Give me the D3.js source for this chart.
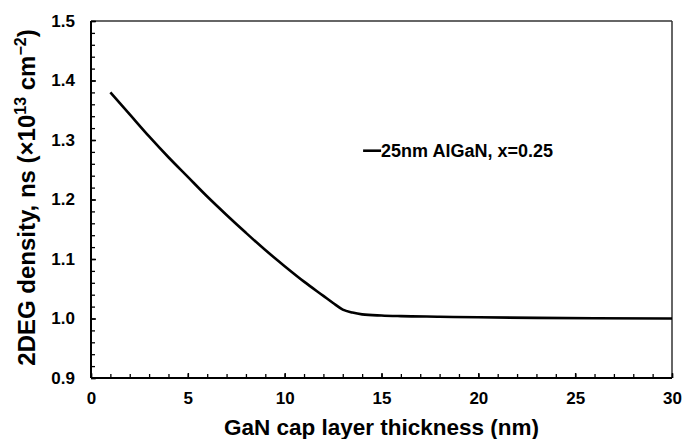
<!DOCTYPE html>
<html>
<head>
<meta charset="utf-8">
<script src="https://cdn.jsdelivr.net/npm/d3@7"></script>
<style>
  body { margin: 0; background: #fff; }
  text { font-family: "Liberation Sans", Arial, sans-serif; font-weight: bold; fill: #000; }
</style>
</head>
<body>
<div id="chart"></div>
<script>
// Data
const thickness = [1, 2, 3, 4, 5, 6, 7, 8, 9, 10, 11, 12, 12.5, 13, 13.5, 14, 15, 16, 18, 20, 23, 26, 30];
const density = [1.380, 1.343, 1.306, 1.271, 1.238, 1.205, 1.174, 1.144, 1.115, 1.088, 1.062, 1.038,
  1.026, 1.015, 1.010, 1.007, 1.005, 1.004, 1.003, 1.002, 1.001, 1.0005, 1.000];
const xTicks = [0, 5, 10, 15, 20, 25, 30];
const yTicks = [0.9, 1.0, 1.1, 1.2, 1.3, 1.4, 1.5];
const seriesName = "25nm AlGaN, x=0.25";

const svgWidth = 683;
const svgHeight = 439;
const margin = { top: 21, right: 11, bottom: 61, left: 91 };
const chartWidth = svgWidth - margin.left - margin.right;
const chartHeight = svgHeight - margin.top - margin.bottom;

const svg = d3.select("#chart")
  .append("svg")
  .attr("width", svgWidth)
  .attr("height", svgHeight);

const chartGroup = svg.append("g")
  .attr("transform", `translate(${margin.left}, ${margin.top})`);

const xScale = d3.scaleLinear().domain([0, 30]).range([0, chartWidth]);
const yScale = d3.scaleLinear().domain([0.9, 1.5]).range([chartHeight, 0]);

// frame: top and right
chartGroup.append("line")
  .attr("x1", 0).attr("x2", chartWidth).attr("y1", 0).attr("y2", 0)
  .attr("stroke", "#333").attr("stroke-width", 1.5);
chartGroup.append("line")
  .attr("x1", chartWidth).attr("x2", chartWidth).attr("y1", 0).attr("y2", chartHeight)
  .attr("stroke", "#333").attr("stroke-width", 1.5);

// minor ticks
const xMinor = d3.range(0, 31, 1);
const yMinor = d3.range(0, 31).map(i => 0.9 + i * 0.02);

chartGroup.append("g")
  .attr("transform", `translate(0, ${chartHeight})`)
  .call(d3.axisBottom(xScale).tickValues(xMinor).tickSize(-4).tickFormat(""))
  .call(g => g.select(".domain").remove())
  .selectAll("line").attr("stroke-width", 1.3);

chartGroup.append("g")
  .call(d3.axisLeft(yScale).tickValues(yMinor).tickSize(-4).tickFormat(""))
  .call(g => g.select(".domain").remove())
  .selectAll("line").attr("stroke-width", 1.3);

// major axes
const xAxis = chartGroup.append("g")
  .attr("transform", `translate(0, ${chartHeight})`)
  .call(d3.axisBottom(xScale).tickValues(xTicks).tickSize(-5).tickPadding(14).tickFormat(d3.format("d")));
xAxis.select(".domain").attr("stroke-width", 2).attr("d", `M0,0H${chartWidth}`);
xAxis.selectAll("line").attr("stroke-width", 1.5);
xAxis.selectAll("text").style("font-size", "17px");

const yAxis = chartGroup.append("g")
  .call(d3.axisLeft(yScale).tickValues(yTicks).tickSize(-5).tickPadding(16).tickFormat(d3.format(".1f")));
yAxis.select(".domain").attr("stroke-width", 2).attr("d", `M0,${chartHeight}V0`);
yAxis.selectAll("line").attr("stroke-width", 1.5);
yAxis.selectAll("text").style("font-size", "17px");

// curve
const points = thickness.map((t, i) => [t, density[i]]);
const line = d3.line()
  .x(d => xScale(d[0]))
  .y(d => yScale(d[1]))
  .curve(d3.curveMonotoneX);

chartGroup.append("path")
  .datum(points)
  .attr("d", line)
  .attr("fill", "none")
  .attr("stroke", "#000")
  .attr("stroke-width", 2.6);

// legend
const legend = chartGroup.append("g")
  .attr("transform", `translate(${xScale(14.05)}, ${yScale(1.282)})`);
legend.append("line")
  .attr("x1", 0).attr("x2", 18).attr("y1", 0).attr("y2", 0)
  .attr("stroke", "#000").attr("stroke-width", 2.6);
legend.append("text")
  .attr("x", 18).attr("y", 6)
  .style("font-size", "18px")
  .text(seriesName);

// axis labels
const yLabel = chartGroup.append("text")
  .attr("transform", `translate(${-margin.left + 35}, ${chartHeight / 2 - 2}) rotate(-90)`)
  .attr("text-anchor", "middle")
  .style("font-size", "24px");
yLabel.append("tspan").text("2DEG density, ns (×10");
yLabel.append("tspan").attr("dy", -9).style("font-size", "16px").text("13");
yLabel.append("tspan").attr("dy", 9).text(" cm");
yLabel.append("tspan").attr("dy", -9).style("font-size", "16px").text("−2");
yLabel.append("tspan").attr("dy", 9).text(")");

chartGroup.append("text")
  .attr("x", chartWidth / 2)
  .attr("y", chartHeight + 57)
  .attr("text-anchor", "middle")
  .style("font-size", "22.5px")
  .text("GaN cap layer thickness (nm)");
</script>
</body>
</html>
